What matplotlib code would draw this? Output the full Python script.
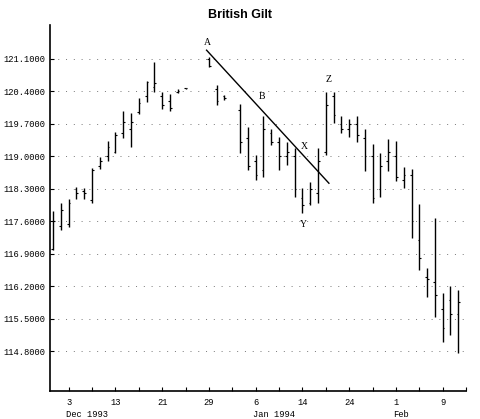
import numpy as np
import matplotlib.pyplot as plt

# weekday offset from Dec 3 1993
days = [-2, -1, 0, 1, 2, 3, 4, 5, 6, 7, 8, 9, 10, 11, 12, 13, 14, 15,
        18, 19, 20, 22, 23, 24, 25, 26, 27, 28, 29, 30, 31, 32, 33, 34,
        35, 36, 37, 38, 39, 40, 41, 42, 43, 44, 45, 46, 47, 48, 49, 50]
highs = [117.82, 117.99, 118.08, 118.34, 118.32, 118.75, 118.99, 119.33, 119.53, 119.98,
         119.94, 120.26, 120.63, 121.04, 120.39, 120.35, 120.45, 120.48,
         121.15, 120.54, 120.32, 120.12, 119.64, 119.03, 119.86, 119.60, 119.42, 119.32,
         119.17, 118.31, 118.45, 119.17, 120.39, 120.39, 119.86, 119.81, 119.86, 119.58,
         119.26, 119.08, 119.37, 119.33, 118.78, 118.73, 117.97, 116.60, 117.68, 116.05,
         116.21, 116.12]
lows = [116.98, 117.41, 117.48, 118.08, 118.08, 117.99, 118.73, 118.90, 119.07, 119.40,
        119.20, 119.91, 120.17, 120.39, 120.02, 119.98, 120.36, 120.46,
        120.93, 120.11, 120.22, 119.07, 118.71, 118.49, 118.56, 119.24, 118.71, 118.81,
        118.13, 117.77, 117.95, 117.99, 119.03, 119.71, 119.51, 119.42, 119.32, 118.69,
        117.99, 118.13, 118.69, 118.47, 118.31, 117.23, 116.55, 115.97, 115.54, 115.00,
        115.15, 114.75]
opens = [117.00, 117.50, 117.55, 118.30, 118.25, 118.05, 118.80, 119.00, 119.10, 119.50,
         119.60, 119.95, 120.30, 120.50, 120.30, 120.20, 120.38, 120.47,
         121.10, 120.45, 120.30, 120.00, 119.40, 118.90, 118.70, 119.50, 119.30, 119.00,
         119.00, 118.10, 118.00, 118.20, 119.10, 120.30, 119.70, 119.60, 119.70, 119.40,
         119.00, 118.30, 118.90, 119.00, 118.50, 118.60, 117.20, 116.40, 116.30, 115.70,
         115.90, 115.60]
closes = [117.60, 117.85, 118.00, 118.20, 118.20, 118.70, 118.90, 119.20, 119.45, 119.75,
          119.75, 120.15, 120.60, 120.58, 120.10, 120.05, 120.42, 120.47,
          120.95, 120.20, 120.25, 119.30, 118.80, 118.60, 119.60, 119.30, 119.00, 119.10,
          118.30, 117.95, 118.30, 118.90, 120.10, 119.90, 119.60, 119.70, 119.45, 119.00,
          118.10, 118.80, 119.10, 118.55, 118.60, 117.60, 116.80, 116.35, 116.00, 115.30,
          115.60, 115.85]

yticks = [114.8, 115.5, 116.2, 116.9, 117.6, 118.3, 119.0, 119.7, 120.4, 121.1]
xtick_pos = [0, 6, 12, 18, 24, 30, 36, 42, 48]
xtick_labels = ['3', '13', '21', '29', '6', '14', '24', '1', '9']
month_pos = [0, 24, 42]
month_labels = ['Dec 1993', 'Jan 1994', 'Feb']

# trend line A -> beyond X
trend_x = [17.7, 33.4]
trend_y = [121.29, 118.42]
marks = ['A', 'B', 'X', 'Y', 'Z']
mark_x = [17.8, 24.8, 30.3, 30.1, 33.3]
mark_y = [121.46, 120.3, 119.22, 117.52, 120.66]

fig = plt.figure(figsize=(4.8, 4.19), dpi=100)
ax = fig.add_axes([0.104, 0.067, 0.867, 0.873])

ax.vlines(days, lows, highs, color='black', linewidth=1.0)
ax.hlines(opens, np.array(days) - 0.22, days, color='black', linewidth=0.8)
ax.hlines(closes, days, np.array(days) + 0.22, color='black', linewidth=0.8)

ax.plot(trend_x, trend_y, color='black', linewidth=1.0)
for m, mx, my in zip(marks, mark_x, mark_y):
    ax.text(mx, my, m, fontsize=7, family='Liberation Serif', ha='center', va='center')

ax.set_xlim(-2.4, 50.8)
ax.set_ylim(113.94, 121.83)

ax.set_yticks(yticks)
ax.set_yticklabels(['%.4f' % v for v in yticks], family='Liberation Mono', fontsize=6.3)
ax.set_xticks(xtick_pos)
ax.set_xticklabels(xtick_labels, family='Liberation Mono', fontsize=6.3)
ax.set_xticks([p + 3 for p in xtick_pos], minor=True)
ax.tick_params(axis='both', which='both', direction='in', length=3, width=0.8, pad=3)
ax.tick_params(axis='x', pad=5)

for mp, ml in zip(month_pos, month_labels):
    ax.text(mp - 0.3, -0.052, ml, transform=ax.get_xaxis_transform(),
            family='Liberation Mono', fontsize=6.3, ha='left', va='top')

ax.grid(axis='y', color='#777777', linestyle=(0, (1, 7)), linewidth=0.7)
ax.spines['top'].set_visible(False)
ax.spines['right'].set_visible(False)
ax.spines['left'].set_linewidth(1.2)
ax.spines['bottom'].set_linewidth(1.2)

fig.text(0.5, 0.965, 'British Gilt', ha='center', va='center', fontsize=9,
         fontweight='bold', family='Liberation Sans')

plt.savefig('out.png')
